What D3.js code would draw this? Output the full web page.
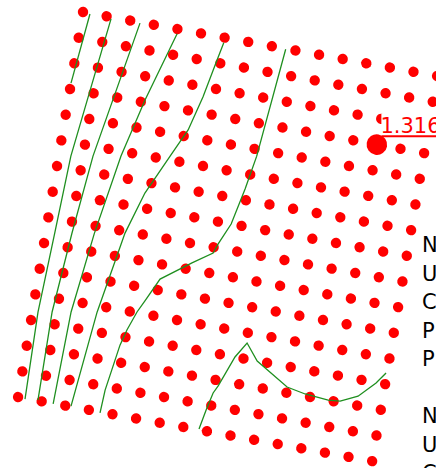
<!DOCTYPE html>
<html><head><meta charset="utf-8">
<script src="https://cdn.jsdelivr.net/npm/d3@7"></script>
<style>html,body{margin:0;padding:0;background:#fff;overflow:hidden}svg{display:block}</style>
</head><body>
<script>
// grid of sample points (columns x rows)
const cols = d3.range(16);
const rows = d3.range(16);
// contour lines, in grid coordinates [col, row]
const line1 = [[0.30,0.03],[0.00,2.77]];
const line2 = [[1.20,0.07],[0.50,5.53],[0.37,8.55],[0.23,11.65],[0.30,15.03]];
const line3 = [[2.42,0.03],[1.41,5.38],[1.08,8.43],[0.81,11.55],[0.84,14.98]];
const line4 = [[4.02,0.18],[3.16,2.90],[2.56,5.18],[2.00,8.30],[1.59,11.42],[1.49,15.02]];
const line5 = [[6.00,0.20],[5.80,1.10],[5.52,2.39],[5.14,3.74],[4.58,4.85],[3.80,6.42],[3.26,8.07],[2.66,11.25],[2.24,14.98]];
const line6 = [[8.59,0.02],[8.14,4.26],[7.89,5.58],[7.56,7.00],[7.16,7.85],[7.02,8.22],[6.22,8.74],[5.02,9.57],[4.55,10.50],[4.30,10.97],[4.01,11.72],[3.83,12.34],[3.67,13.30],[3.53,14.14],[3.48,15.04]];
const line7 = [[7.66,14.97],[7.82,14.20],[7.99,13.51],[8.15,13.21],[8.64,12.00],[9.04,11.39],[9.58,12.00],[10.99,12.78],[11.78,12.92],[12.77,12.99],[13.27,12.95],[13.97,12.64],[14.62,12.02],[14.96,11.57]];
const contourLines = [line1,line2,line3,line4,line5,line6,line7];
// highlighted point and its value
const highlightCol = 13, highlightRow = 3;
const highlightLabel = "1.316";
// side text (clipped at window edge)
const sideLines = ["N","U","C","P","P","","N","U","C"];

const W = 436, H = 468;
const FONT = "DejaVu Sans, sans-serif";
const svg = d3.select("body").append("svg").attr("width",W).attr("height",H);

const x = d3.scaleLinear().domain([0,15]).range([0,359.8]);
const y = d3.scaleLinear().domain([0,15]).range([0,390.5]);
// rotated frame of the grid
const M = {a:0.9841,b:0.1781,c:-0.1663,d:0.9861,e:83,f:12};
const g = svg.append("g").attr("transform",`matrix(${M.a},${M.b},${M.c},${M.d},${M.e},${M.f})`);

const pts = [];
rows.forEach(r=>cols.forEach(c=>pts.push({c,r})));
g.selectAll("circle.pt").data(pts).join("circle").attr("class","pt")
  .attr("cx",d=>x(d.c)).attr("cy",d=>y(d.r)).attr("r",5.2).attr("fill","#ff0000");

const lineGen = d3.line().x(d=>x(d[0])).y(d=>y(d[1]));
g.selectAll("path.ct").data(contourLines).join("path").attr("class","ct")
  .attr("d",lineGen).attr("fill","none").attr("stroke","#1f8f1f").attr("stroke-width",1.3);

g.append("circle").attr("cx",x(highlightCol)).attr("cy",y(highlightRow)).attr("r",10.3).attr("fill","#ff0000");

// screen position of highlight
const hx = M.a*x(highlightCol)+M.c*y(highlightRow)+M.e;
const hy = M.b*x(highlightCol)+M.d*y(highlightRow)+M.f;
svg.append("rect").attr("x",hx+4.5).attr("y",hy-31).attr("width",80).attr("height",22.5).attr("fill","#fff");
svg.append("text").attr("x",hx+3.5).attr("y",hy-11.2).attr("fill","#ff0000")
  .attr("font-family",FONT).attr("font-size",21).text(highlightLabel);
svg.append("line").attr("x1",hx+4.5).attr("x2",W+5).attr("y1",hy-8.3).attr("y2",hy-8.3)
  .attr("stroke","#ff0000").attr("stroke-width",2.2);

svg.append("g").selectAll("text").data(sideLines).join("text")
  .attr("x",422).attr("y",(d,i)=>252.3+i*28.5)
  .attr("font-family",FONT).attr("font-size",21).attr("fill","#000")
  .text(d=>d);
</script>
</body></html>
